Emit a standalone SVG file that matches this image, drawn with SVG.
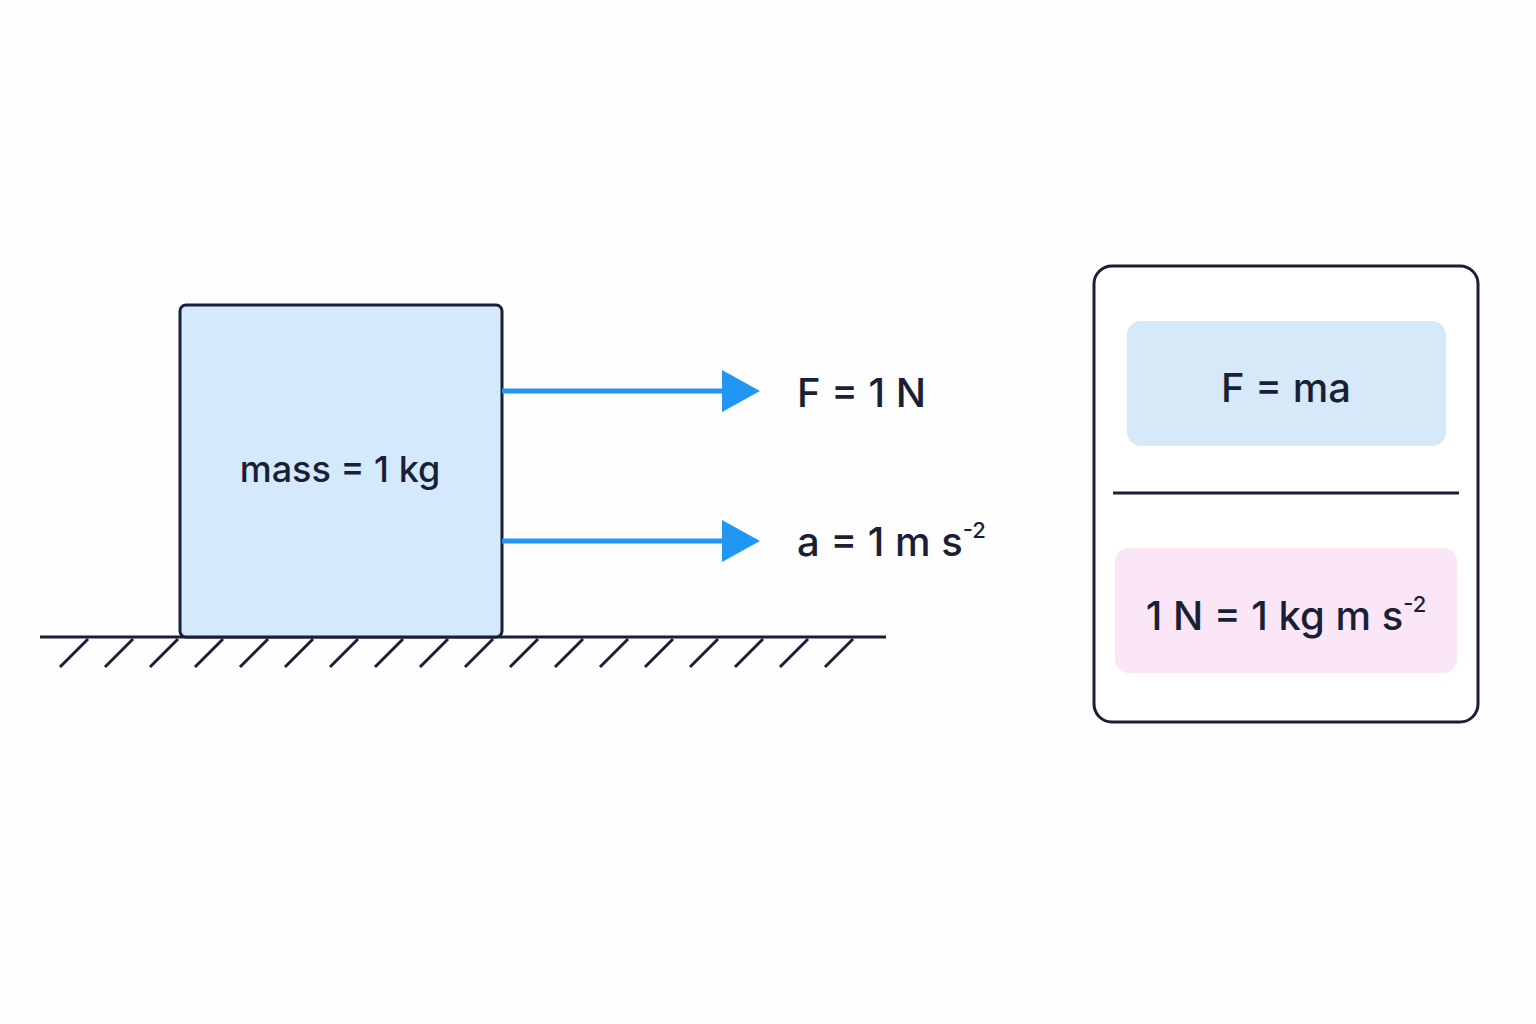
<svg xmlns="http://www.w3.org/2000/svg" width="1536" height="1024" viewBox="0 0 1536 1024">
<style>
.t{font-family:Inter,"Liberation Sans",sans-serif;fill:#1a1f36;font-weight:500}
.ln{stroke:#1a1f36;stroke-width:3;fill:none}
.ar{stroke:#2196f3;stroke-width:5}
</style>
<rect width="1536" height="1024" fill="#fdfdfd"/>
<g id="ground">
<line class="ln" x1="40" y1="637" x2="886" y2="637"/>
<path class="ln" d="M60 667L88 639M105 667L133 639M150 667L178 639M195 667L223 639M240 667L268 639M285 667L313 639M330 667L358 639M375 667L403 639M420 667L448 639M465 667L493 639M510 667L538 639M555 667L583 639M600 667L628 639M645 667L673 639M690 667L718 639M735 667L763 639M780 667L808 639M825 667L853 639"/>
</g>
<g id="block">
<rect x="180" y="305" width="322" height="332" rx="6" fill="#d4e9fb" stroke="#1a1f36" stroke-width="3"/>
<text class="t" x="340" y="482" font-size="36" text-anchor="middle">mass = 1 kg</text>
</g>
<g id="connectors">
<line class="ar" x1="502" y1="391" x2="725" y2="391"/>
<polygon points="722,370 760,391 722,412" fill="#2196f3"/>
<line class="ar" x1="502" y1="541" x2="725" y2="541"/>
<polygon points="722,520 760,541 722,562" fill="#2196f3"/>
</g>
<g id="labelF"><text class="t" x="797" y="407" font-size="40">F = 1 N</text></g>
<g id="labelA"><text class="t" x="797" y="556" font-size="40">a = 1 m s<tspan dy="-18" font-size="22">-2</tspan></text></g>
<g id="panel">
<rect x="1094" y="266" width="384" height="456" rx="18" fill="#fff" stroke="#1a1f36" stroke-width="3"/>
<rect x="1127" y="321" width="319" height="125" rx="14" fill="#d6e9f8"/>
<text class="t" x="1286" y="402" font-size="40" text-anchor="middle">F = ma</text>
<line class="ln" x1="1113" y1="493" x2="1459" y2="493"/>
<rect x="1115" y="548" width="342" height="125" rx="14" fill="#fbe6f7"/>
<text class="t" x="1286" y="630" font-size="40" text-anchor="middle">1 N = 1 kg m s<tspan dy="-18" font-size="22">-2</tspan></text>
</g>
</svg>
